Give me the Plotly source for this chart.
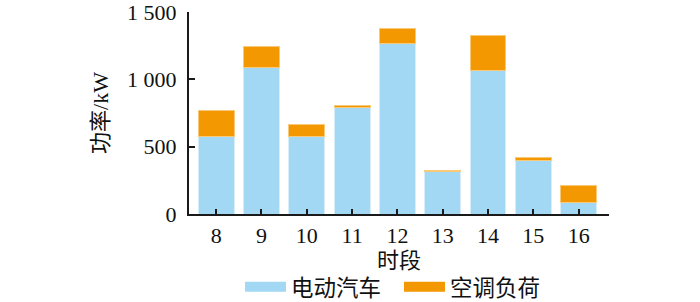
import plotly.graph_objects as go

periods = ["8", "9", "10", "11", "12", "13", "14", "15", "16"]
ev_load = [572, 1091, 577, 792, 1269, 314, 1062, 396, 84]
ac_load = [200, 156, 86, 15, 112, 9, 267, 20, 129]
y_ticks = [0, 500, 1000, 1500]
y_tick_text = ["0", "500", "1 000", "1 500"]

blue = "#A2D8F4"
orange = "#F39800"
font_family = "Liberation Serif, Times New Roman, Noto Sans CJK SC, serif"

fig = go.Figure()
fig.add_trace(go.Bar(x=periods, y=ev_load, name="电动汽车", marker=dict(color=blue, line=dict(color="#D6EEFA", width=1)), showlegend=False))
fig.add_trace(go.Bar(x=periods, y=ac_load, name="空调负荷", marker=dict(color=orange, line=dict(color="#F9C97A", width=1)), showlegend=False))
# legend entries with wide swatches
fig.add_trace(go.Scatter(x=[None], y=[None], mode="lines", name="电动汽车", line=dict(color=blue, width=11)))
fig.add_trace(go.Scatter(x=[None], y=[None], mode="lines", name="空调负荷", line=dict(color=orange, width=11)))

fig.update_layout(
    width=700, height=302,
    barmode="stack", bargap=0.21,
    margin=dict(l=189, r=91, t=12, b=88, autoexpand=False),
    plot_bgcolor="white", paper_bgcolor="white",
    font=dict(family=font_family, size=22, color="#111111"),
    showlegend=True,
    legend=dict(orientation="h", x=0.5, xanchor="center", y=-0.362, yanchor="middle",
                traceorder="normal", entrywidth=103, entrywidthmode="pixels",
                font=dict(size=22.5), itemwidth=41, tracegroupgap=0, bgcolor="rgba(0,0,0,0)"),
)
fig.update_xaxes(
    type="category", range=[-0.6, 8.67],
    showline=True, linecolor="#1a1a1a", linewidth=2,
    ticks="inside", ticklen=5, tickwidth=2, tickcolor="#1a1a1a",
    showgrid=False, zeroline=False,
    title=dict(text="时段", standoff=4, font=dict(size=22)),
    ticklabelstandoff=1, ticklabeloverflow="allow",
)
fig.update_yaxes(
    range=[0, 1500], tickvals=y_ticks, ticktext=y_tick_text,
    showline=True, linecolor="#1a1a1a", linewidth=2,
    ticks="inside", ticklen=6, tickwidth=2, tickcolor="#1a1a1a",
    showgrid=False, zeroline=False,
    title=dict(text="功率/kW", standoff=12, font=dict(size=22)),
    ticklabelstandoff=6, ticklabeloverflow="allow",
)

fig.write_html("out.html", config={"displayModeBar": False},
               post_script="document.body.style.margin='0';")
